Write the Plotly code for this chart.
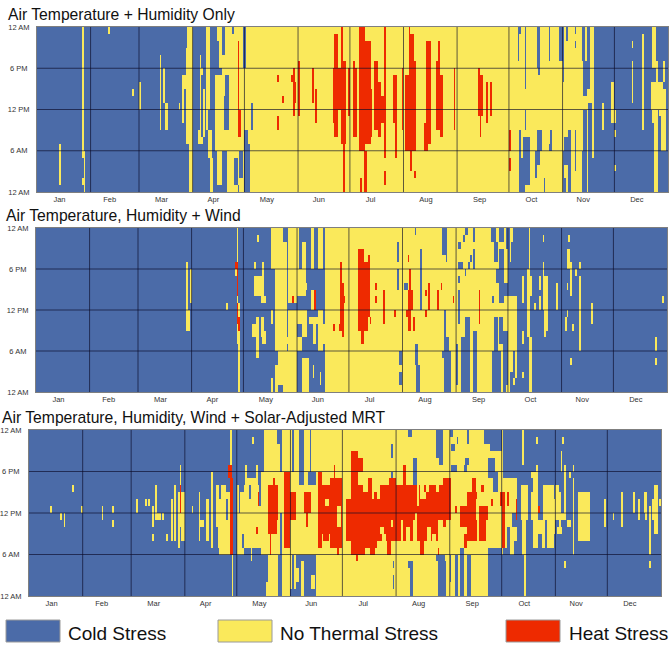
import plotly.graph_objects as go

W, H = 669, 646
BLUE, YELLOW, RED = "#4B6BA8", "#FAE95B", "#EE2A00"
MONTHS = ["Jan","Feb","Mar","Apr","May","Jun","Jul","Aug","Sep","Oct","Nov","Dec"]
MONTH_LABEL_DAY = [13,42,72,102,133,163,193,225,256,286,316,347]
MONTH_EDGES = [31,59,90,120,151,181,212,243,273,304,334]
HOUR_TICKS = [0,6,12,18,24]
HOUR_LABELS = ["12 AM","6 AM\u00a0","12 PM","6 PM\u00a0","12 AM"]
TITLES = ["Air Temperature + Humidity Only","Air Temperature, Humidity + Wind",
          "Air Temperature, Humidity, Wind + Solar-Adjusted MRT"]
LEGEND = ["Cold Stress","No Thermal Stress","Heat Stress"]

# Each patch: first day, last day, first hour, end hour
P1_YELLOW = [
 (13,13,1,7),(26,26,6,24),(26,27,5,6),(27,27,0,5),(26,26,1,2),(41,41,23,24),(55,55,14,15),(59,59,12,16),
 (71,71,9,20),(73,73,13,18),(74,75,9,13),(82,82,12,13),(84,84,10,17),(85,85,15,17),(87,89,21,24),(86,89,7,21),
 (88,89,0,7),(94,94,7,20),(95,95,17,18),(93,94,7,9),(95,95,7,8),(96,96,8,15),(98,99,12,24),(98,98,9,12),
 (99,100,5,9),(100,101,0,5),(104,106,22,24),(105,106,18,22),(103,107,6,17),(104,106,1,6),(107,108,14,20),
 (109,110,17,24),(108,110,6,9),(110,119,0,6),(111,321,0,24),
]
P1_BLUE = [
 (114,115,1,5),(113,113,23,24),(116,116,0,1),(117,118,2,6),(119,120,18,24),(120,121,0,9),(122,122,0,7),(124,124,9,13),
 (278,279,23,24),(278,278,19,23),(282,282,15,24),(289,290,18,24),(290,290,17,18),(296,296,19,24),(302,303,19,24),
 (304,304,16,24),(306,306,22,24),(311,311,23,24),(311,311,21,22),(315,316,19,24),(318,319,15,24),(316,317,14,19),
 (282,282,9,12),(279,279,0,9),(280,281,0,5),(281,284,1,8),(289,290,4,9),(288,288,3,6),(291,291,6,9),(288,288,2,3),(293,293,0,2),
 (296,296,6,7),(297,297,6,9),(304,304,0,6),(305,306,4,8),(307,308,0,9),(311,311,3,9),(315,317,0,6),(316,317,6,12),
 (319,320,0,13),(321,321,0,5),(322,322,5,19),(304,305,0,2),
]
P1_YELLOW2 = [
 (327,327,9,13),(332,333,10,16),(334,334,10,12),(334,334,8,9),(334,334,3,4),(344,344,21,22),(344,344,13,19),
 (350,350,9,23),(356,357,18,24),(358,358,16,19),(355,359,12,16),(356,358,10,12),(357,358,0,10),(360,361,11,16),
 (361,363,6,15),(362,362,16,19),
]
P1_RED = [
 (116,116,9,22),(116,117,8,12),(139,139,16,17),(139,139,9,11),(142,142,13,14),(147,147,16,17),(148,148,11,18),
 (149,149,13,16),(151,151,11,19),(159,159,13,18),(161,161,10,15),(171,171,10,18),(172,173,8,23),(174,175,12,18),
 (174,176,14,17),(176,178,7,19),(176,176,18,24),(177,177,0,7),(180,180,11,18),(183,183,18,19),(183,184,8,18),
 (186,189,6,24),(190,192,7,22),(193,193,8,15),(187,187,0,2),(189,190,0,6),(195,196,9,19),(197,198,8,16),
 (199,201,10,14),(201,201,5,24),(201,201,1,3),(206,207,10,17),(207,207,5,10),(211,211,9,18),(215,215,23,24),
 (215,217,19,23),(215,218,17,19),(213,218,6,17),(216,216,3,6),(218,218,2,3),(225,227,7,22),(224,227,7,10),
 (224,225,6,7),(232,232,19,22),(231,232,9,19),(233,234,8,17),(241,241,9,18),(255,255,15,18),(255,257,11,17),
 (256,256,8,12),(260,260,10,16),(262,262,11,16),(273,273,6,9),(273,273,3,5),
]

P2_YELLOW = [
 (87,87,9,19),(89,89,13,18),(87,88,11,12),(88,88,9,11),(110,110,12,13),(116,116,19,24),(115,115,17,19),
 (116,117,7,13),(116,116,13,14),(117,117,0,7),(128,128,22,23),(126,126,18,19),(126,128,14,17),(129,130,14,17),
 (131,131,13,19),(130,132,13,14),(125,127,8,10),(127,128,5,11),(130,131,8,11),(131,132,7,9),
 (136,140,18,24),(137,144,18,22),(141,142,22,24),(146,150,18,24),(151,151,18,24),(154,155,18,22),(159,160,18,24),
 (163,165,18,24),(138,144,12,18),(146,150,13,18),(151,155,14,18),(155,156,15,16),(159,161,12,15),(136,136,10,12),
 (138,144,6,12),(145,145,7,8),(146,150,6,12),(151,153,10,12),(151,153,6,8),(154,156,8,12),(158,162,10,11),
 (160,161,7,10),(163,165,6,12),(165,166,7,10),(136,136,0,2),(138,139,0,4),(140,142,1,6),(143,145,0,6),(146,150,0,6),
 (154,157,0,5),(160,160,2,4),(164,164,1,3),(167,277,0,24),
]
P2_BLUE = [
 (219,219,23,24),(209,209,19,22),(209,209,15,18),(213,214,15,16),(210,211,4,6),(210,211,1,3),(219,220,4,7),
 (220,221,0,4),(222,222,12,21),(235,237,20,24),(237,237,19,20),(236,236,8,12),(236,238,6,8),(235,239,5,6),
 (236,239,0,5),(244,245,21,22),(244,246,18,19),(244,244,16,17),(244,244,10,15),(243,243,1,7),(246,247,0,8),
 (248,248,17,18),(247,247,22,23),(248,249,23,24),(253,253,22,24),(250,250,18,19),(251,251,19,20),(253,253,18,21),
 (248,250,0,11),(253,254,0,9),(263,265,22,24),(265,266,19,22),(266,267,16,18),(268,270,22,24),(272,274,21,24),
 (268,270,13,21),(273,274,16,24),(271,273,14,16),(264,264,13,14),(265,266,6,11),(268,269,7,11),(264,268,0,6),
 (270,272,0,9),(274,276,0,6),(275,275,14,24),(276,277,21,24),(277,277,0,2),(274,275,14,24),(276,277,14,21),
]
P2_YELLOW2 = [
 (274,274,19,24),(275,275,22,24),(274,276,6,14),(274,275,3,6),(272,273,0,1),(276,276,1,2),
 (285,285,18,24),(284,285,8,18),(285,286,0,8),(281,281,13,17),(281,281,2,3),(281,281,7,9),(284,286,14,17),
 (288,288,12,13),(291,291,15,17),(291,291,12,14),(293,293,22,23),(293,293,12,19),(294,295,9,17),(294,294,8,9),
 (301,301,12,16),(308,308,22,23),(307,308,18,21),(307,307,15,16),(309,309,14,19),(312,312,17,18),(314,314,18,19),
 (314,314,6,17),(307,307,11,12),(306,306,9,11),(310,310,9,10),(309,309,4,5),(321,321,10,13),(358,358,6,8),
 (358,358,4,5),(362,362,13,14),
]
P2_RED = [
 (115,115,18,19),(116,116,14,19),(116,116,10,13),(117,117,9,11),(148,148,13,14),(161,161,12,15),(172,172,9,10),
 (175,175,9,10),(176,176,9,19),(177,177,8,16),(178,178,13,14),(186,189,16,21),(186,191,9,19),(188,189,7,10),
 (192,192,11,20),(193,193,10,11),(196,196,15,16),(196,196,13,14),(201,201,10,15),(207,207,11,12),(215,215,19,20),
 (216,216,9,18),(215,217,12,15),(214,214,11,12),(215,215,9,12),(218,218,9,11),(225,225,11,12),(225,225,14,15),
 (227,227,12,16),(232,232,12,15),(234,234,15,16),(241,241,13,14),(256,256,10,15),
]

P3_YELLOW = [
 (12,12,12,13),(18,18,11,12),(20,20,10,12),(25,25,15,16),(30,30,12,13),(42,42,11,13),(48,48,12,13),(48,48,10,11),
 (62,62,12,14),(67,67,13,14),(69,69,13,14),(71,71,10,13),(71,71,8,9),(73,73,12,16),(73,75,11,12),(77,77,11,12),
 (79,79,8,9),(82,82,8,14),(84,84,8,16),(86,86,7,15),(87,87,15,19),(86,89,10,15),(88,89,8,10),(94,94,12,13),
 (98,98,11,15),(98,100,10,11),(98,98,8,10),(102,103,8,14),(105,105,7,18),(108,113,10,16),(109,111,7,10),
 (110,115,6,10),(111,112,14,16),(114,115,9,15),(116,116,18,24),(117,117,0,6),(120,123,6,15),(124,133,7,16),(125,131,16,17),
 (128,128,5,7),(125,125,17,19),(131,131,17,19),(129,129,22,23),(120,120,15,16),
 (136,140,18,24),(141,144,18,22),(141,142,22,24),(146,150,18,24),(151,151,18,24),(153,155,18,24),(159,161,18,24),(163,165,18,24),
 (134,166,6,18),(138,143,0,6),(137,137,0,2),(146,150,0,6),(151,153,1,6),(153,155,2,4),(157,158,0,5),(163,164,1,3),
 (166,273,0,24),(274,278,7,17),(278,279,6,10),(279,281,12,17),(279,281,8,10),(284,287,11,16),(285,285,19,24),(286,286,0,6),(285,286,6,11),
 (290,293,11,18),(291,297,7,11),(293,293,22,23),(293,293,17,19),(297,305,11,16),(299,303,7,11),(305,309,11,15),(306,306,10,11),
 (305,307,9,10),(308,308,22,23),(307,307,18,21),(309,309,15,19),(312,312,17,18),(314,314,18,19),(314,314,6,17),(309,309,4,5),
 (311,312,10,11),(317,323,11,15),(317,320,8,11),(321,323,8,11),(332,332,10,14),(337,337,11,12),(342,342,10,15),
 (349,349,12,15),(352,352,11,14),(355,356,12,15),(356,356,11,13),(358,358,6,13),(358,358,4,5),(360,362,11,14),(361,362,9,16),(364,364,13,14),
]
P3_BLUE = [
 (145,145,6,12),(156,158,16,18),(161,165,16,18),(151,152,0,1),(144,145,0,6),(152,152,0,6),(156,156,0,5),
 (219,220,23,24),(209,209,20,22),(209,209,17,18),(222,223,16,20),(210,210,4,5),(210,210,1,3),(219,221,4,5),(220,221,0,4),
 (235,238,20,24),(237,238,19,20),(235,239,5,6),(236,240,0,5),(244,245,21,22),(244,246,18,19),(244,245,16,17),(247,247,22,23),(243,244,23,24),
 (251,252,18,19),(252,253,19,20),(253,253,22,24),(243,243,2,6),(246,247,0,6),(249,250,0,7),(253,254,0,6),
 (263,265,22,24),(266,268,21,24),(269,272,21,24),(265,268,17,20),(268,270,15,18),(265,268,0,7),(269,272,0,7),(274,276,0,6),
 (274,276,17,24),(273,275,0,6),
 (121,121,12,15),(123,123,7,9),(110,110,14,16),(114,114,11,14),(127,127,14,16),(133,133,13,16),
 (276,277,7,10),(282,283,7,10),(288,289,8,11),(289,290,15,17),(294,295,7,9),(298,298,9,11),(303,304,7,9),(307,308,12,15),
 (312,313,13,15),(303,303,14,16),(296,296,14,16),
]
P3_RED = [
 (87,87,12,16),(115,116,17,19),(116,117,6,17),(117,117,7,12),(132,132,13,15),(131,131,9,10),
 (138,143,11,16),(141,141,16,17),(138,142,9,11),(139,139,6,9),(147,150,7,18),(151,153,11,15),(159,162,12,15),(160,160,10,12),
 (167,168,7,18),(169,173,9,16),(170,172,8,9),(176,176,17,19),(174,180,7,17),(178,178,6,7),(183,186,8,14),(186,189,6,21),
 (190,192,18,20),(190,193,6,16),(189,189,5,6),(193,200,7,17),(197,199,6,7),(201,208,8,16),(207,208,6,8),(208,211,8,17),
 (212,222,11,16),(212,221,8,11),(216,217,16,19),(223,238,11,16),(224,235,8,11),(226,227,6,8),(236,236,6,7),
 (239,240,10,17),(241,243,11,17),(246,247,12,13),(249,252,10,13),(251,252,7,9),(253,258,8,15),(256,257,15,17),
 (260,264,11,13),(260,263,8,11),(261,262,15,16),(267,267,13,14),(272,274,13,15),(273,274,7,13),(276,276,13,15),
 (281,281,11,14),(294,294,12,13),
]
P3_YELLOW2 = [
 (178,179,10,13),(181,182,10,17),(198,198,14,17),(204,205,8,9),(203,203,9,10),(209,209,10,11),(215,215,8,11),
 (223,223,11,12),(228,228,14,15),(231,231,9,10),(244,245,11,17),(247,248,10,13),(258,259,11,14),
 (226,227,14,16),(229,230,15,16),(235,236,15,16),(224,224,13,16),(230,231,8,10),(233,234,8,9),(193,195,15,17),
 (199,200,15,17),(204,204,8,10),(171,172,13,14),(201,202,14,16),(218,219,8,10),
]


def build(layers):
    grid = [[0] * 365 for _ in range(24)]
    for patches, code in layers:
        for d0, d1, h0, h1 in patches:
            for h in range(max(h0, 0), min(h1, 24)):
                for d in range(d0, min(d1, 364) + 1):
                    grid[h][d] = code
    return grid


PANELS = [
    dict(layers=[(P1_YELLOW,1),(P1_BLUE,0),(P1_YELLOW2,1),(P1_RED,2)], box=(37,668,27,192), title_xy=(6,14)),
    dict(layers=[(P2_YELLOW,1),(P2_BLUE,0),(P2_YELLOW2,1),(P2_RED,2)], box=(36,667,228,392), title_xy=(4,216)),
    dict(layers=[(P3_YELLOW,1),(P3_BLUE,0),(P3_RED,2),(P3_YELLOW2,1)], box=(29,661,430,596), title_xy=(0,417)),
]

TICK_FONT = dict(family="Liberation Sans", size=7.5, color="#333333")
fig = go.Figure()
shapes, annotations = [], []
layout = {}
for i, p in enumerate(PANELS):
    n = "" if i == 0 else str(i + 1)
    x0, x1, y0, y1 = p["box"]
    fig.add_trace(go.Heatmap(
        z=build(p["layers"]), x0=0.5, dx=1, y0=0.5, dy=1, zmin=0, zmax=2, showscale=False, hoverinfo="skip",
        colorscale=[[0,BLUE],[0.333,BLUE],[0.333,YELLOW],[0.667,YELLOW],[0.667,RED],[1,RED]],
        xaxis="x"+n, yaxis="y"+n))
    layout["xaxis"+n] = dict(domain=[x0/W, x1/W], range=[0,365], anchor="y"+n, tickmode="array",
        tickvals=MONTH_LABEL_DAY, ticktext=MONTHS, ticks="", showgrid=False, zeroline=False,
        tickfont=TICK_FONT, showline=True, mirror=True, linecolor="#7f7f7f", linewidth=1)
    layout["yaxis"+n] = dict(domain=[1-y1/H, 1-y0/H], range=[0,24], anchor="x"+n, tickmode="array",
        tickvals=HOUR_TICKS, ticktext=HOUR_LABELS, ticks="outside", ticklen=5, tickcolor="rgba(0,0,0,0)",
        showgrid=False, zeroline=False, tickfont=TICK_FONT,
        showline=True, mirror=True, linecolor="#7f7f7f", linewidth=1)
    for e in MONTH_EDGES:
        shapes.append(dict(type="line", xref="x"+n, yref="y"+n, x0=e, x1=e, y0=0, y1=24, layer="above",
                           line=dict(color="rgba(10,10,40,0.65)", width=1)))
    for t in HOUR_TICKS[1:-1]:
        shapes.append(dict(type="line", xref="x"+n, yref="y"+n, x0=0, x1=365, y0=t, y1=t, layer="above",
                           line=dict(color="rgba(10,10,40,0.65)", width=1)))
    tx, ty = p["title_xy"]
    annotations.append(dict(text=TITLES[i], xref="paper", yref="paper", x=tx/W, y=1-ty/H, xanchor="left", yanchor="middle",
                            showarrow=False, font=dict(family="Liberation Sans", size=15.7, color="#111111")))

for (sx, tx), colour, label in zip([(6,66),(218,278),(506,567)], [BLUE,YELLOW,RED], LEGEND):
    shapes.append(dict(type="rect", xref="paper", yref="paper", x0=sx/W, x1=(sx+54)/W, y0=1-642/H, y1=1-620/H,
                       fillcolor=colour, line=dict(color="#9a9a9a", width=1)))
    annotations.append(dict(text=label, xref="paper", yref="paper", x=tx/W, y=1-633/H, xanchor="left", yanchor="middle",
                            showarrow=False, font=dict(family="Liberation Sans", size=19, color="#111111")))

fig.update_layout(width=W, height=H, margin=dict(l=0,r=0,t=0,b=0,autoexpand=False), plot_bgcolor="white", paper_bgcolor="white",
                  showlegend=False, shapes=shapes, annotations=annotations, **layout)
fig.write_html("out.html", config={"displayModeBar": False},
               post_script="document.body.style.margin='0';document.documentElement.style.overflow='hidden';")
